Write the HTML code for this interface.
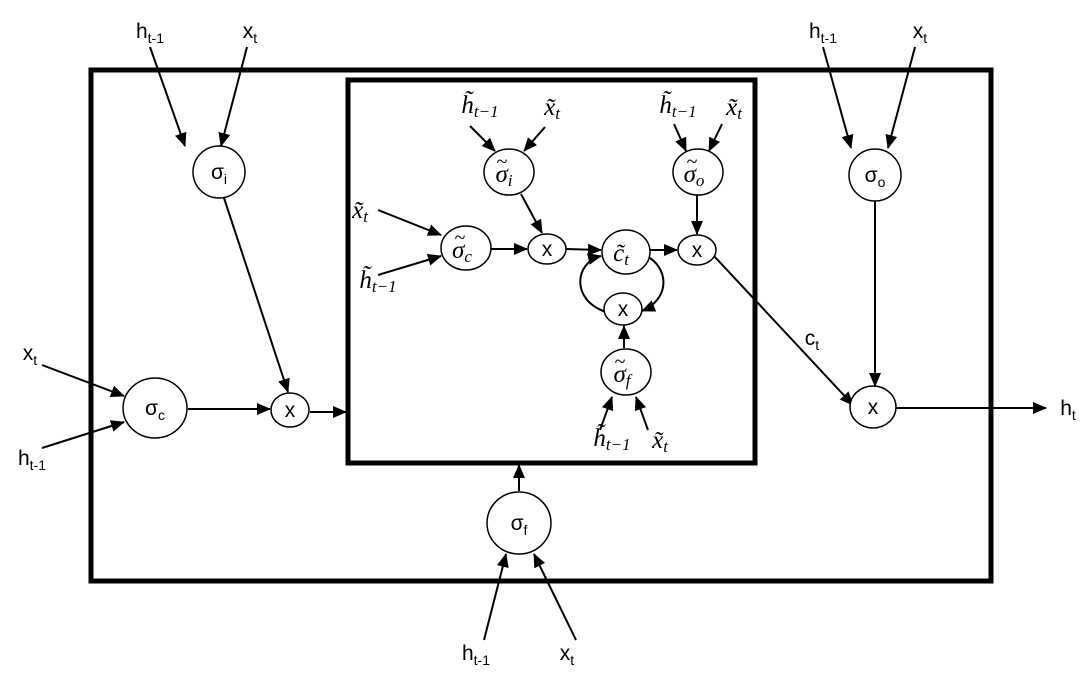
<!DOCTYPE html>
<html><head><meta charset="utf-8"><style>
html,body{margin:0;padding:0;background:#fff}
svg{display:block}
.o{font-family:"Liberation Sans",sans-serif;font-size:21px}
.s{font-size:14px}
.i{font-family:"Liberation Serif",serif;font-style:italic;font-size:25px}
.is{font-size:17px}
.t{font-family:"Liberation Serif",serif;font-size:20px}
</style></head><body>
<svg width="1090" height="674" viewBox="0 0 1090 674" xmlns="http://www.w3.org/2000/svg">
<defs>
<marker id="b" markerWidth="14" markerHeight="14" refX="13" refY="7" orient="auto" markerUnits="userSpaceOnUse" viewBox="0 0 14 14"><path d="M0,1 L14,7 L0,13 z" fill="#000"/></marker></defs>
<rect x="91" y="70" width="900" height="511" fill="none" stroke="#000" stroke-width="5"/>
<rect x="348" y="80" width="407" height="383" fill="none" stroke="#000" stroke-width="5"/>
<g stroke="#000" stroke-width="2" fill="none" marker-end="url(#b)">
<line x1="150" y1="47" x2="185" y2="146"/>
<line x1="247" y1="47" x2="221" y2="146"/>
<line x1="224" y1="198" x2="288" y2="392"/>
<line x1="188" y1="409" x2="270" y2="409"/>
<line x1="310" y1="412" x2="346" y2="412"/>
<line x1="42" y1="365" x2="124" y2="396"/>
<line x1="42" y1="448" x2="124" y2="422"/>
<line x1="519" y1="491" x2="519" y2="465"/>
<line x1="484" y1="640" x2="506" y2="554"/>
<line x1="576" y1="640" x2="534" y2="554"/>
<line x1="823" y1="47" x2="851" y2="148"/>
<line x1="915" y1="47" x2="888" y2="148"/>
<line x1="875" y1="201" x2="875" y2="386"/>
<line x1="714" y1="256" x2="853" y2="405"/>
<line x1="896" y1="408" x2="1046" y2="408"/>
<line x1="470" y1="126" x2="495" y2="151"/>
<line x1="545" y1="127" x2="524" y2="151"/>
<line x1="674" y1="124" x2="686" y2="151"/>
<line x1="722" y1="124" x2="709" y2="151"/>
<line x1="521" y1="194" x2="542" y2="233"/>
<line x1="378" y1="210" x2="441" y2="235"/>
<line x1="378" y1="275" x2="441" y2="256"/>
<line x1="491" y1="249" x2="527" y2="249"/>
<line x1="566" y1="249" x2="601" y2="250"/>
<line x1="650" y1="250" x2="677" y2="250"/>
<line x1="697" y1="195" x2="697" y2="234"/>
<line x1="624" y1="348" x2="624" y2="326"/>
<line x1="600" y1="430" x2="612" y2="397"/>
<line x1="648" y1="430" x2="636" y2="397"/>
<path d="M606,312 C570,300 575,262 601,256"/>
<path d="M650,258 C670,272 668,300 642,311"/>
</g>
<g stroke="#000" stroke-width="1.5" fill="#fff">
<ellipse cx="219" cy="172" rx="26" ry="26"/>
<ellipse cx="875" cy="175" rx="26" ry="26"/>
<ellipse cx="155" cy="408" rx="32" ry="30"/>
<ellipse cx="290" cy="410" rx="19" ry="17"/>
<ellipse cx="519" cy="523" rx="32" ry="31"/>
<ellipse cx="873" cy="407" rx="23" ry="21"/>
<ellipse cx="509" cy="172" rx="25" ry="23"/>
<ellipse cx="698" cy="172" rx="25" ry="23"/>
<ellipse cx="466" cy="248" rx="25" ry="22"/>
<ellipse cx="547" cy="249" rx="19" ry="15"/>
<ellipse cx="626" cy="252" rx="24" ry="22"/>
<ellipse cx="697" cy="250" rx="19" ry="15"/>
<ellipse cx="623" cy="309" rx="19" ry="16"/>
<ellipse cx="626" cy="372" rx="25" ry="23"/>
</g>
<g class="o" text-anchor="middle">
<text x="150" y="38">h<tspan class="s" dy="5">t-1</tspan></text>
<text x="250" y="38">x<tspan class="s" dy="5">t</tspan></text>
<text x="823" y="38">h<tspan class="s" dy="5">t-1</tspan></text>
<text x="920" y="38">x<tspan class="s" dy="5">t</tspan></text>
<text x="30" y="360">x<tspan class="s" dy="5">t</tspan></text>
<text x="32" y="465">h<tspan class="s" dy="5">t-1</tspan></text>
<text x="476" y="660">h<tspan class="s" dy="5">t-1</tspan></text>
<text x="567" y="660">x<tspan class="s" dy="5">t</tspan></text>
<text x="812" y="345">c<tspan class="s" dy="5">t</tspan></text>
<text x="1068" y="415">h<tspan class="s" dy="5">t</tspan></text>
<text x="219" y="179">σ<tspan class="s" dy="5">i</tspan></text>
<text x="875" y="182">σ<tspan class="s" dy="5">o</tspan></text>
<text x="155" y="415">σ<tspan class="s" dy="5">c</tspan></text>
<text x="519" y="530">σ<tspan class="s" dy="5">f</tspan></text>
<text x="290" y="417">x</text>
<text x="873" y="414">x</text>
<text x="547" y="256">x</text>
<text x="697" y="257">x</text>
<text x="623" y="316">x</text>
</g>
<g class="i" text-anchor="middle">
<text x="480" y="113">h̃<tspan class="is" dy="4">t−1</tspan></text>
<text x="552" y="115">x̃<tspan class="is" dy="4">t</tspan></text>
<text x="678" y="113">h̃<tspan class="is" dy="4">t−1</tspan></text>
<text x="734" y="115">x̃<tspan class="is" dy="4">t</tspan></text>
<text x="360" y="218">x̃<tspan class="is" dy="4">t</tspan></text>
<text x="378" y="288">h̃<tspan class="is" dy="4">t−1</tspan></text>
<text x="612" y="446">h̃<tspan class="is" dy="4">t−1</tspan></text>
<text x="660" y="448">x̃<tspan class="is" dy="4">t</tspan></text>
<text x="504" y="182">σ<tspan class="is" dy="4">i</tspan></text>
<text x="694" y="182">σ<tspan class="is" dy="4">o</tspan></text>
<text x="462" y="258">σ<tspan class="is" dy="4">c</tspan></text>
<text x="621" y="261">c̃<tspan class="is" dy="4">t</tspan></text>
<text x="622" y="382">σ<tspan class="is" dy="4">f</tspan></text>
</g>
<g class="t" text-anchor="middle">
<text x="502" y="168">~</text>
<text x="692" y="168">~</text>
<text x="460" y="244">~</text>
<text x="620" y="368">~</text>
</g>
</svg>
</body></html>
